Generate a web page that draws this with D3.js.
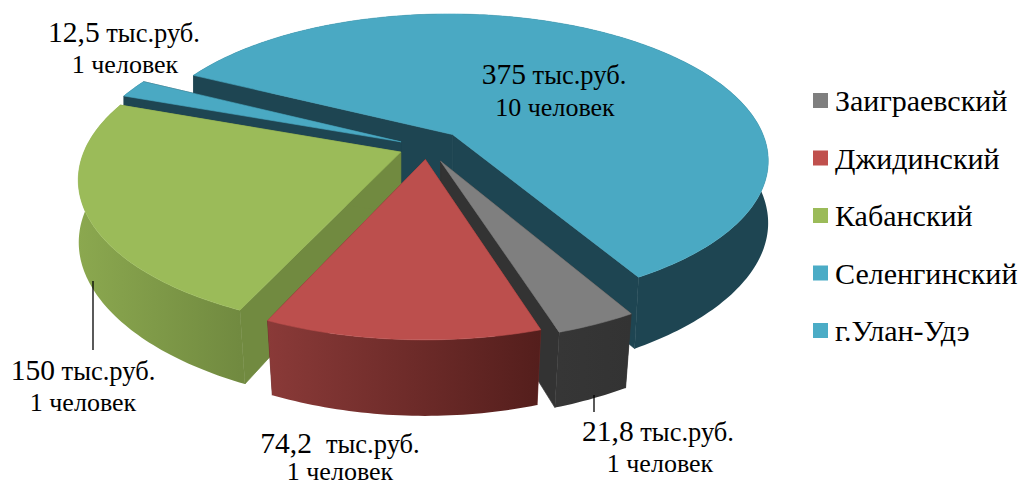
<!DOCTYPE html>
<html><head><meta charset="utf-8">
<style>html,body{margin:0;background:#fff}svg{display:block}text{font-family:"Liberation Serif","Times New Roman",serif;fill:#000}</style>
<script src="https://cdn.jsdelivr.net/npm/d3@7"></script></head><body>
<script>
const categories = ["Заиграевский","Джидинский","Кабанский","Селенгинский","г.Улан-Удэ"];
const values = [21.8,74.2,150,12.5,375];
const valueLabels = ["21,8","74,2 ","150","12,5","375"];
const people = ["1 человек","1 человек","1 человек","1 человек","10 человек"];
const topColors = ["#7f7f7f","#bc4f4d","#9bbb59","#4aa9c3","#4aa9c3"];
const legendColors = ["#7f7f7f","#c0504d","#9bbb59","#4bacc6","#4bacc6"];
const wallFrom = ["#363636","#8a3a38","#8ba84f","#1e4552","#1e4552"];
const wallTo = ["#333333","#541e1c","#718a40","#1e4552","#1e4552"];
const cutColors = ["#333333","#6b2a28","#718a40","#1e4552","#1e4552"];
const explode = [0.105,0.085,0.09,0.09,0.12];
const paintOrder = [4,3,2,0,1];
const labelX = [658,340,83,124,554];
const labelY = [441,453,380,42,84];
const peopleX = [660,340,83,125,555];
const peopleY = [472,480,411,73,116];
const W=1020,H=486;
const cx=427,cy=147,a=315,b=145,p=0.17,h=62,taper=0.03;

function project(X,Y,z){
  const s=1/(1-p*Y),c=Math.max(Y,0),k=1-taper*z*c*c;
  return [cx+a*X*s*k, cy+(b*Y+h*z)*s];
}
const svg=d3.select("body").append("svg").attr("width",W).attr("height",H);
const defs=svg.append("defs");
const deg=Math.PI/180;
const arcs=d3.pie().sort(null).startAngle(150*deg).endAngle(510*deg)(values);
const line=d3.line();
paintOrder.forEach(i=>{
  const d=arcs[i],mid=(d.startAngle+d.endAngle)/2;
  const ox=explode[i]*Math.sin(mid),oy=-explode[i]*Math.cos(mid);
  const n=Math.max(8,Math.ceil((d.endAngle-d.startAngle)/deg));
  const rim=d3.range(n+1).map(j=>{const t=d.startAngle+(d.endAngle-d.startAngle)*j/n;
    return [ox+Math.sin(t),oy-Math.cos(t)];});
  const P=(q,z)=>project(q[0],q[1],z);
  const apex=[ox,oy];
  const g=svg.append("g");
  const gid="wall"+i;
  const xs=rim.map(q=>P(q,0)[0]);
  const grad=defs.append("linearGradient").attr("id",gid).attr("gradientUnits","userSpaceOnUse")
    .attr("x1",d3.min(xs)).attr("x2",d3.max(xs)).attr("y1",0).attr("y2",0);
  grad.append("stop").attr("offset",0).attr("stop-color",wallFrom[i]);
  grad.append("stop").attr("offset",1).attr("stop-color",wallTo[i]);
  [rim[0],rim[n]].forEach(c=>{
    g.append("path").attr("d",line([P(apex,0),P(c,0),P(c,1),P(apex,1)])+"Z")
      .attr("fill",cutColors[i]).attr("stroke",cutColors[i]).attr("stroke-width",0.7);
  });
  g.append("path").attr("d",line(rim.map(q=>P(q,0)).concat(rim.slice().reverse().map(q=>P(q,1))))+"Z")
    .attr("fill",`url(#${gid})`);
  g.append("path").attr("d",line([P(apex,0)].concat(rim.map(q=>P(q,0))))+"Z").attr("fill",topColors[i])
    .attr("stroke",topColors[i]).attr("stroke-width",0.6);
});
// leader lines
const leaders=[[93,281,350],[594,395,412]];
svg.selectAll("line.l").data(leaders).join("line").attr("class","l")
  .attr("x1",d=>d[0]).attr("x2",d=>d[0]).attr("y1",d=>d[1]).attr("y2",d=>d[2])
  .attr("stroke","#000").attr("stroke-width",1.3);
// data labels
values.forEach((v,i)=>{
  const t=svg.append("text").attr("x",labelX[i]).attr("y",labelY[i]).attr("text-anchor","middle").attr("xml:space","preserve");
  t.append("tspan").attr("font-size",29.5).text(valueLabels[i]);
  t.append("tspan").attr("font-size",26.5).text(" тыс.руб.");
  svg.append("text").attr("x",peopleX[i]).attr("y",peopleY[i]).attr("text-anchor","middle")
    .attr("font-size",26).text(people[i]);
});
// legend
const ly=d3.scalePoint().domain(categories).range([100.5,330.5]);
const leg=svg.selectAll("g.leg").data(categories).join("g").attr("class","leg")
  .attr("transform",d=>`translate(813,${ly(d)})`);
leg.append("rect").attr("x",0).attr("y",-7.5).attr("width",15).attr("height",15).attr("fill",(d,i)=>legendColors[i]);
leg.append("text").attr("x",22).attr("y",10.5).attr("font-size",30).text(d=>d);
</script></body></html>
